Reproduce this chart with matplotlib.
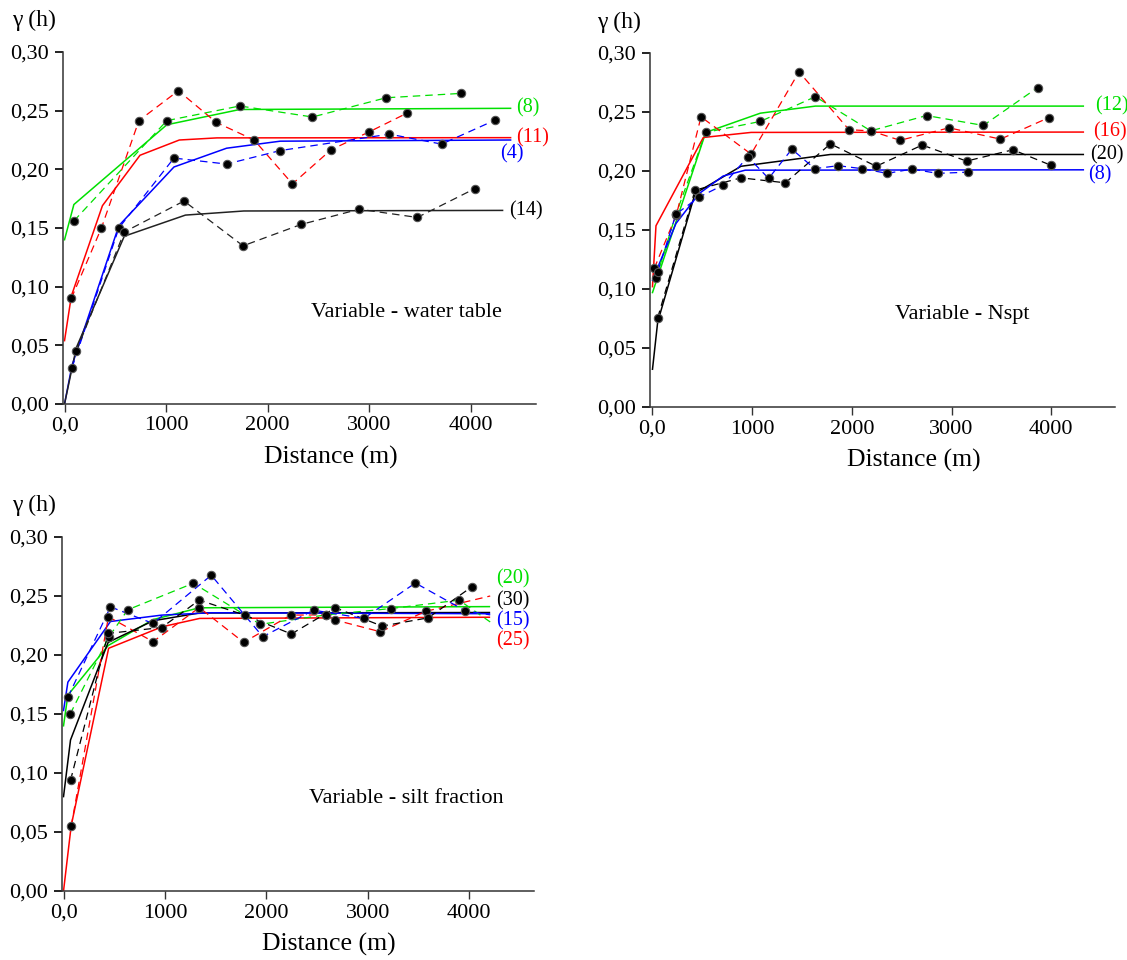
import matplotlib
matplotlib.use("Agg")
import matplotlib.pyplot as plt

plt.rcParams['font.family'] = ['Liberation Serif', 'DejaVu Serif']

W, H = 1127, 960

GREEN = '#00e000'
RED = '#ff0000'
BLUE = '#0000ff'
BLACK = '#000000'

y_ticks = [0.0, 0.05, 0.10, 0.15, 0.20, 0.25, 0.30]
y_tick_labels = ['0,00', '0,05', '0,10', '0,15', '0,20', '0,25', '0,30']
x_ticks = [0, 1000, 2000, 3000, 4000]
x_tick_labels = ['0,0', '1000', '2000', '3000', '4000']

# ---- panel 1: water table ----
wt_green_exp_x = [92, 1007, 1725, 2440, 3165, 3898]
wt_green_exp_y = [0.156, 0.2415, 0.254, 0.2446, 0.261, 0.2647]
wt_green_mod_x = [0, 92, 1007, 1725, 4390]
wt_green_mod_y = [0.140, 0.170, 0.238, 0.251, 0.252]

wt_red_exp_x = [67, 363, 732, 1120, 1493, 1866, 2243, 2623, 3000, 3373]
wt_red_exp_y = [0.090, 0.150, 0.2415, 0.267, 0.240, 0.225, 0.1876, 0.2167, 0.232, 0.248]
wt_red_mod_x = [0, 67, 373, 743, 1130, 1500, 4390]
wt_red_mod_y = [0.054, 0.092, 0.169, 0.212, 0.225, 0.2268, 0.227]

wt_blue_exp_x = [74, 535, 1077, 1595, 2123, 3197, 3711, 4239]
wt_blue_exp_y = [0.031, 0.150, 0.2096, 0.2045, 0.216, 0.230, 0.2215, 0.242]
wt_blue_mod_x = [0, 74, 535, 1077, 1595, 2123, 4390]
wt_blue_mod_y = [0.0, 0.033, 0.152, 0.202, 0.218, 0.224, 0.225]

wt_black_exp_x = [116, 588, 1176, 1757, 2327, 2901, 3472, 4039]
wt_black_exp_y = [0.045, 0.1466, 0.173, 0.1348, 0.153, 0.166, 0.159, 0.1836]
wt_black_mod_x = [0, 116, 588, 1190, 1764, 4311]
wt_black_mod_y = [0.0, 0.048, 0.143, 0.161, 0.1645, 0.165]

# ---- panel 2: Nspt ----
ns_green_exp_x = [35, 236, 534, 1082, 1634, 2190, 2749, 3319, 3864]
ns_green_exp_y = [0.109, 0.1635, 0.2327, 0.242, 0.263, 0.234, 0.247, 0.2386, 0.2707]
ns_green_mod_x = [0, 534, 1082, 1634, 4322]
ns_green_mod_y = [0.097, 0.2327, 0.249, 0.255, 0.255]

ns_red_exp_x = [18, 240, 487, 989, 1470, 1971, 2190, 2484, 2975, 3491, 3978]
ns_red_exp_y = [0.1175, 0.163, 0.2459, 0.2143, 0.284, 0.235, 0.234, 0.226, 0.2366, 0.227, 0.2453]
ns_red_mod_x = [0, 35, 510, 989, 4322]
ns_red_mod_y = [0.102, 0.1536, 0.2284, 0.2327, 0.233]

ns_blue_exp_x = [52, 236, 470, 708, 956, 1165, 1398, 1627, 1864, 2100, 2355, 2602, 2860, 3165]
ns_blue_exp_y = [0.1146, 0.1635, 0.178, 0.188, 0.212, 0.1937, 0.2185, 0.202, 0.2045,
                 0.202, 0.198, 0.2016, 0.198, 0.199]
ns_blue_mod_x = [0, 236, 470, 708, 930, 4322]
ns_blue_mod_y = [0.1075, 0.1556, 0.181, 0.1957, 0.2007, 0.201]

ns_black_exp_x = [52, 427, 888, 1333, 1785, 2244, 2706, 3151, 3616, 3993]
ns_black_exp_y = [0.0756, 0.1838, 0.1942, 0.190, 0.223, 0.204, 0.222, 0.2084, 0.218, 0.205]
ns_black_mod_x = [0, 52, 427, 888, 1785, 4322]
ns_black_mod_y = [0.032, 0.072, 0.181, 0.204, 0.214, 0.214]

# ---- panel 3: silt fraction ----
sf_green_exp_x = [66, 445, 633, 1280, 1940, 2590, 3233, 3901]
sf_green_exp_y = [0.150, 0.215, 0.2383, 0.2608, 0.226, 0.234, 0.2394, 0.2465]
sf_green_tail = (4208, 0.228)
sf_green_mod_x = [0, 43, 440, 883, 1339, 4200]
sf_green_mod_y = [0.140, 0.166, 0.208, 0.230, 0.240, 0.241]

sf_red_exp_x = [76, 443, 883, 1339, 1777, 2240, 2590, 2682, 3124, 3572]
sf_red_exp_y = [0.055, 0.2324, 0.2113, 0.2402, 0.2107, 0.2338, 0.234, 0.2296, 0.2197, 0.237]
sf_red_tail = (4208, 0.250)
sf_red_mod_x = [0, 76, 445, 975, 1343, 4200]
sf_red_mod_y = [0.0, 0.0555, 0.2057, 0.224, 0.231, 0.232]

sf_blue_exp_x = [43, 463, 883, 1457, 1965, 2466, 2961, 3470, 3961]
sf_blue_exp_y = [0.1642, 0.2408, 0.2267, 0.2676, 0.2155, 0.238, 0.231, 0.261, 0.2375]
sf_blue_tail = (4208, 0.234)
sf_blue_mod_x = [0, 43, 463, 968, 1457, 4200]
sf_blue_mod_y = [0.153, 0.177, 0.2284, 0.2338, 0.2358, 0.235]

sf_black_exp_x = [69, 440, 968, 1339, 1788, 2247, 2682, 3141, 3597, 4025]
sf_black_exp_y = [0.0938, 0.2183, 0.2233, 0.2465, 0.2338, 0.2178, 0.240, 0.2245, 0.2315, 0.2577]
sf_black_mod_x = [0, 69, 440, 883, 1339, 4200]
sf_black_mod_y = [0.080, 0.128, 0.2107, 0.229, 0.2356, 0.236]

# end-of-line labels
wt_labels = [('(8)', GREEN, 4440, 0.252), ('(11)', RED, 4440, 0.227),
             ('(4)', BLUE, 4290, 0.2136), ('(14)', BLACK, 4380, 0.165)]
ns_labels = [('(12)', GREEN, 4440, 0.255), ('(16)', RED, 4420, 0.233),
             ('(20)', BLACK, 4390, 0.214), ('(8)', BLUE, 4370, 0.1966)]
sf_labels = [('(20)', GREEN, 4265, 0.2644), ('(30)', BLACK, 4265, 0.2457),
             ('(15)', BLUE, 4265, 0.2288), ('(25)', RED, 4265, 0.2118)]

fig = plt.figure(figsize=(W / 100, H / 100), dpi=100)


def make_axes(left, right, top, bottom):
    return fig.add_axes([left / W, 1 - bottom / H, (right - left) / W, (bottom - top) / H])


def style_axes(ax):
    ax.set_xlim(-15, 4640)
    ax.set_ylim(0, 0.30)
    for s in ['top', 'right']:
        ax.spines[s].set_visible(False)
    for s in ['left', 'bottom']:
        ax.spines[s].set_linewidth(1.1)
        ax.spines[s].set_color('#333333')
    ax.set_yticks(y_ticks)
    ax.set_yticklabels(y_tick_labels)
    ax.set_xticks(x_ticks)
    ax.set_xticklabels(x_tick_labels)
    ax.tick_params(axis='y', direction='out', length=6, width=1.3, pad=4,
                   labelsize=16, color='#111111')
    ax.tick_params(axis='x', direction='out', length=6, width=1.0, pad=3,
                   labelsize=16, color='#333333')


def draw_series(ax, ex, ey, mx, my, color, tail=None):
    ax.plot(mx, my, color=color, lw=1.1, zorder=2)
    lx, ly = list(ex), list(ey)
    if tail is not None:
        lx.append(tail[0])
        ly.append(tail[1])
    ax.plot(lx, ly, color=color, lw=0.9, dashes=(6, 4), zorder=3)
    ax.plot(ex, ey, ls='none', marker='o', ms=6, mfc='black', mec='#555555',
            mew=0.8, zorder=4)


def draw_labels(ax, labels):
    for txt, col, x, y in labels:
        ax.text(x, y, txt, color=col, fontsize=14.5, ha='left', va='center',
                clip_on=False)


ax1 = make_axes(63, 536, 52, 404)
style_axes(ax1)
draw_series(ax1, wt_green_exp_x, wt_green_exp_y, wt_green_mod_x, wt_green_mod_y, GREEN)
draw_series(ax1, wt_red_exp_x, wt_red_exp_y, wt_red_mod_x, wt_red_mod_y, RED)
draw_series(ax1, wt_blue_exp_x, wt_blue_exp_y, wt_blue_mod_x, wt_blue_mod_y, BLUE)
draw_series(ax1, wt_black_exp_x, wt_black_exp_y, wt_black_mod_x, wt_black_mod_y, '#222222')
draw_labels(ax1, wt_labels)
ax1.text(2430, 0.078, 'Variable - water table', fontsize=16, ha='left', va='center')

ax2 = make_axes(650, 1115, 53, 407)
style_axes(ax2)
ax2.set_xlim(-25, 4640)
draw_series(ax2, ns_green_exp_x, ns_green_exp_y, ns_green_mod_x, ns_green_mod_y, GREEN)
draw_series(ax2, ns_red_exp_x, ns_red_exp_y, ns_red_mod_x, ns_red_mod_y, RED)
draw_series(ax2, ns_black_exp_x, ns_black_exp_y, ns_black_mod_x, ns_black_mod_y, BLACK)
draw_series(ax2, ns_blue_exp_x, ns_blue_exp_y, ns_blue_mod_x, ns_blue_mod_y, BLUE)
draw_labels(ax2, ns_labels)
ax2.text(2430, 0.078, 'Variable - Nspt', fontsize=16, ha='left', va='center')

ax3 = make_axes(62, 534, 537, 891)
style_axes(ax3)
draw_series(ax3, sf_green_exp_x, sf_green_exp_y, sf_green_mod_x, sf_green_mod_y, GREEN,
            sf_green_tail)
draw_series(ax3, sf_red_exp_x, sf_red_exp_y, sf_red_mod_x, sf_red_mod_y, RED, sf_red_tail)
draw_series(ax3, sf_black_exp_x, sf_black_exp_y, sf_black_mod_x, sf_black_mod_y, BLACK)
draw_series(ax3, sf_blue_exp_x, sf_blue_exp_y, sf_blue_mod_x, sf_blue_mod_y, BLUE,
            sf_blue_tail)
draw_labels(ax3, sf_labels)
ax3.text(2425, 0.078, 'Variable - silt fraction', fontsize=16, ha='left', va='center')

# axis titles
for x, y in [(12, 20), (597, 22), (12, 505)]:
    fig.text(x / W, 1 - y / H, 'γ (h)', fontsize=17, ha='left', va='center')
for x, y in [(331, 457), (914, 460), (329, 944)]:
    fig.text(x / W, 1 - y / H, 'Distance (m)', fontsize=18.5, ha='center', va='center')

fig.savefig('out.png', dpi=100)
